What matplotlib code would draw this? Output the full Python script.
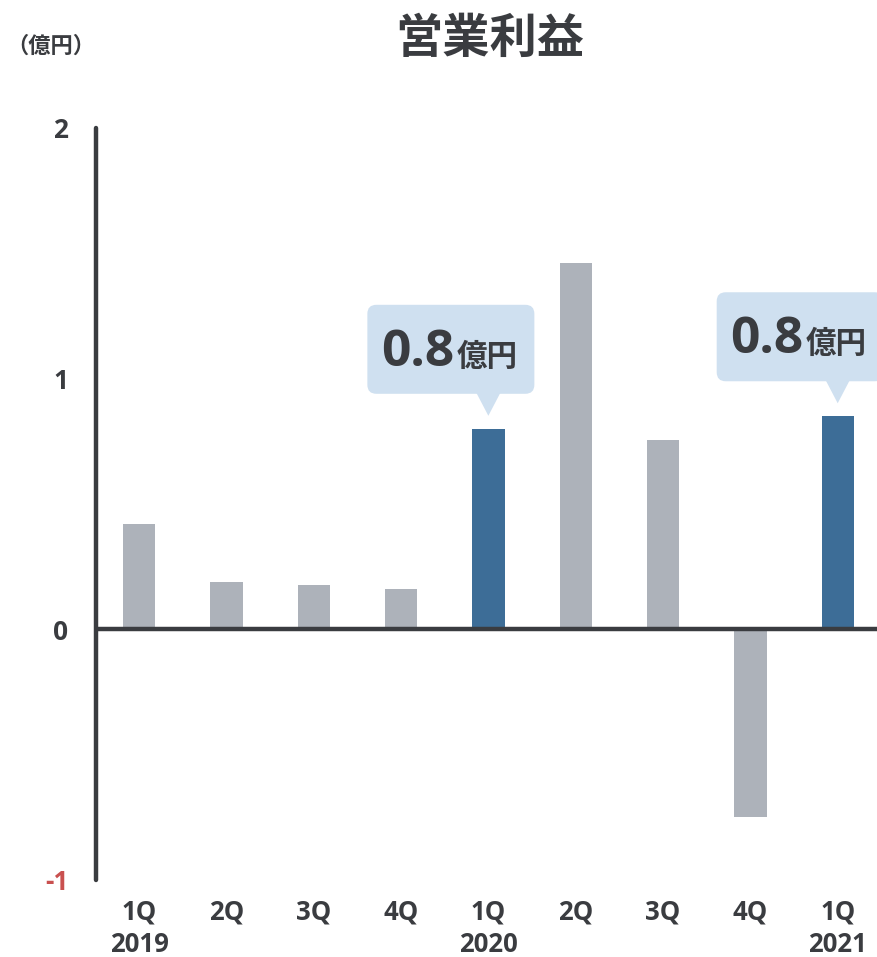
import matplotlib
matplotlib.use("Agg")
import matplotlib.pyplot as plt
from matplotlib.patches import FancyBboxPatch, Polygon
from matplotlib.lines import Line2D
from matplotlib.transforms import IdentityTransform

plt.rcParams['font.family'] = ['Open Sans', 'Noto Sans CJK JP', 'DejaVu Sans']
plt.rcParams['font.weight'] = 'bold'

# 営業利益（億円）四半期
quarters = ["1Q", "2Q", "3Q", "4Q", "1Q", "2Q", "3Q", "4Q", "1Q"]
years = ["2019", "", "", "", "2020", "", "", "", "2021"]
profit = [0.42, 0.19, 0.175, 0.16, 0.8, 1.46, 0.755, -0.75, 0.85]
highlight = [False, False, False, False, True, False, False, False, True]
callout_text = ["", "", "", "", "0.8", "", "", "", "0.8"]

GRAY = "#adb2ba"
BLUE = "#3d6d97"
DARK = "#3a3c40"
BOX = "#cfe0f0"
RED = "#c9504f"

W, H = 877, 957
fig = plt.figure(figsize=(W / 100, H / 100), dpi=100)
ax = fig.add_axes([96 / W, 1 - 880 / H, 1 - 96 / W, (880 - 128) / H])

xs = list(range(len(profit)))
colors = [BLUE if h else GRAY for h in highlight]
ax.bar(xs, profit, width=0.37, color=colors, zorder=2)

ax.set_xlim(-0.4926, 8.45)
ax.set_ylim(-1, 2)
for s in ax.spines.values():
    s.set_visible(False)

# 縦軸と0ライン
ax.add_line(Line2D([-0.4926, -0.4926], [-1, 2], color=DARK, lw=3.2,
                   solid_capstyle='round', clip_on=False, zorder=3))
ax.axhline(0, color=DARK, lw=3.2, zorder=3)

ax.set_yticks([-1, 0, 1, 2])
ax.set_yticklabels(["-1", "0", "1", "2"], fontsize=19, fontweight='bold', color=DARK)
ax.get_yticklabels()[0].set_color(RED)
ax.tick_params(axis='y', length=0, pad=20)

ax.set_xticks(xs)
ax.set_xticklabels([q + "\n" + y for q, y in zip(quarters, years)],
                   fontsize=18.5, fontweight='bold', color=DARK, linespacing=1.3)
ax.tick_params(axis='x', length=0, pad=13)

fig.text(490 / W, 1 - 40 / H, "営業利益", ha='center', va='center',
         fontsize=34, fontweight='bold', color=DARK)
fig.text(6 / W, 1 - 47 / H, "（億円）", ha='left', va='center',
         fontsize=16, fontweight='bold', color=DARK)

# 吹き出し
fig.canvas.draw()
for x, v, t in zip(xs, profit, callout_text):
    if not t:
        continue
    tx, ty = ax.transData.transform((x, v))
    ty += 13
    bottom = ty + 22
    box = FancyBboxPatch((tx - 121 + 9, bottom + 9), 167 - 18, 89 - 18,
                         boxstyle="round,pad=9", fc=BOX, ec='none',
                         transform=IdentityTransform(), clip_on=False, zorder=4)
    fig.patches.append(box)
    tri = Polygon([(tx - 12, bottom + 1), (tx + 12, bottom + 1), (tx, ty)],
                  closed=True, fc=BOX, ec='none',
                  transform=IdentityTransform(), zorder=4)
    fig.patches.append(tri)
    fig.text(tx - 34, bottom + 28, t, ha='right', va='baseline',
             fontsize=37, fontweight='bold', color=DARK,
             transform=IdentityTransform(), zorder=5)
    fig.text(tx - 32, bottom + 28, "億円", ha='left', va='baseline',
             fontsize=22, fontweight='bold', color=DARK,
             transform=IdentityTransform(), zorder=5)

fig.savefig("out.png", dpi=100, facecolor='white')
